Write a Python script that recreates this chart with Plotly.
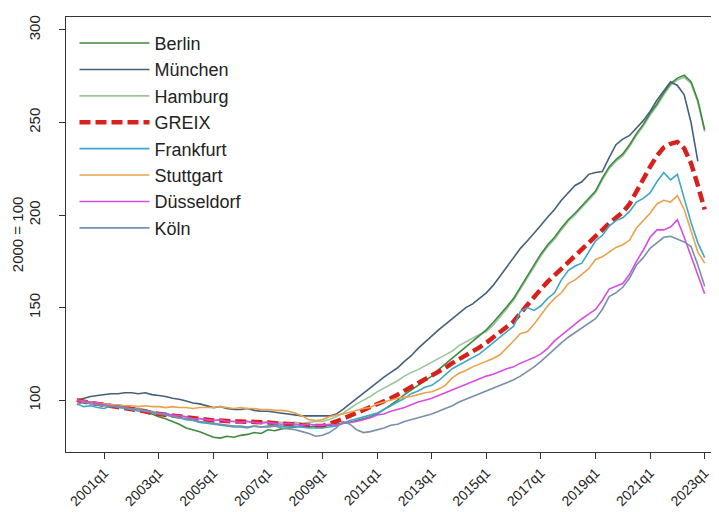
import plotly.graph_objects as go

quarters = [f"{y}q{q}" for y in range(2000, 2024) for q in range(1, 5)][:93]
tick_labels = ["2001q1", "2003q1", "2005q1", "2007q1", "2009q1", "2011q1",
               "2013q1", "2015q1", "2017q1", "2019q1", "2021q1", "2023q1"]
y_ticks = [100, 150, 200, 250, 300]

berlin = [
    100, 99.5, 99, 98.5, 98, 97.5, 97.5, 96.5, 96, 95, 94, 92.5,
    91, 90, 88.5, 87, 85, 84, 83, 81.5, 80, 79.5, 80.5, 80,
    81, 81.5, 82.5, 82, 84, 83.5, 84.5, 85, 85.5, 86, 85.5, 86,
    86, 86.5, 87, 87.5, 88, 89, 90, 91, 92.5, 95, 97.5, 100,
    103, 105.5, 108, 110.5, 113, 116.5, 119.5, 123, 126, 129, 132, 135,
    138, 142, 146, 150.5, 155, 161, 167, 173, 179, 184, 188, 193,
    197.5, 201, 205, 209, 213, 220, 226, 230, 233, 238, 244, 249,
    255, 260, 266, 271, 274, 275.5, 272, 262, 246]

muenchen = [
    100, 101, 102, 102.5, 103, 103.5, 103.5, 104, 104, 103.5, 104, 103,
    102.5, 102, 101, 100.5, 99.5, 98.5, 98, 97, 96, 96.5, 95.5, 95,
    95, 95.5, 94.5, 94, 94, 93.5, 93, 92.5, 92, 91.5, 91.5, 91.5,
    91.5, 91.5, 92.5, 95, 98, 101, 103.5, 107, 110, 112.5, 115, 117.5,
    121, 124, 128, 131.5, 135, 138, 141, 144, 147, 150, 152, 155,
    158, 162, 167, 172, 177, 182, 186, 190, 194.5, 199, 203, 208,
    212, 216, 218, 222, 223, 223.5, 231, 238, 241, 243, 247, 251,
    256, 262, 267, 272, 270, 265, 250, 229, None]

hamburg = [
    100, 99.5, 99, 98.5, 98, 97.5, 97, 96.5, 96, 95.5, 94.5, 94,
    93, 92.5, 92, 91.5, 91, 90.5, 90, 89.5, 89, 89.5, 89, 88.5,
    89, 88.5, 88, 88.5, 88, 88.5, 88, 87.5, 88, 87.5, 88, 88.5,
    88.5, 89.5, 91, 93, 95.5, 98, 100, 102, 104.5, 106.5, 108.5, 110.5,
    113, 115, 116.5, 118.5, 120.5, 122.5, 124.5, 126.5, 129.5, 131.5, 133.5, 135.5,
    137, 140.5, 145, 149.5, 154, 160, 166, 172, 178, 183, 187, 192,
    196.5, 200, 204, 208, 212, 219, 225, 229, 232, 237, 243, 248,
    254, 259, 265, 270, 273, 274.5, 271, 261, 245]

greix = [
    100, 99, 98.5, 98, 97.5, 97, 96, 95.5, 95, 94.5, 94, 93,
    92.5, 92, 91.5, 91, 90.5, 90, 89.5, 89.5, 89, 89, 88.5, 88.5,
    88.5, 88.5, 88, 88, 88, 87.5, 87.5, 87, 87, 86.5, 86, 86,
    86, 87, 88.5, 90, 91.5, 93, 94.5, 96, 97.5, 99, 101, 103,
    105, 107, 109, 111, 113, 115, 117.5, 120, 122, 124, 126.5, 128.5,
    131, 134, 137, 139.5, 142.5, 147, 151.5, 156, 160, 164, 167.5, 171,
    174.5, 178, 182, 185.5, 189, 192, 195.5, 198.5, 201.5, 206, 213, 220,
    226, 232, 236.5, 238.5, 239.5, 236, 228, 216, 203]

frankfurt = [
    98, 96.5, 97, 96, 95.5, 97, 96, 95.5, 95, 94, 94.5, 93.5,
    92.5, 93, 91.5, 90.5, 89.5, 89, 88, 87.5, 87, 86.5, 86, 85.5,
    85.5, 85, 86, 85.5, 86, 86.5, 86, 85.5, 86, 85.5, 85, 85,
    85, 85.5, 86, 87.5, 89, 90, 91, 92, 93, 95, 97, 99,
    101, 103.5, 105, 107, 108, 110.5, 114, 117, 119, 121, 123, 125,
    128, 131, 134, 137.5, 140, 148, 150, 148.5, 151, 155, 158, 165,
    170, 172.5, 174, 180, 186, 189, 194, 197, 198.5, 202, 207, 209,
    212, 218, 223, 219, 222, 209, 196, 185, 177]

stuttgart = [
    100, 99.5, 99, 98.5, 98, 97.5, 97.5, 97, 97, 96.5, 97, 96.5,
    96.5, 96, 96.5, 96, 96, 95.5, 96, 96, 96, 96.5, 96, 95.5,
    96, 95.5, 95.5, 95, 95, 94.5, 94.5, 94, 93, 91.5, 89.5, 89,
    89.5, 91, 92, 92.5, 93.5, 94.5, 95.5, 96, 98, 99, 100, 101,
    101.5, 102, 103, 104, 104.5, 106, 108, 112, 114.5, 116, 118, 119.5,
    121, 122.5, 124.5, 128, 132, 136, 137, 141, 146, 151, 155, 158,
    163, 165, 168, 171, 176, 177.5, 180, 182.5, 184, 186.5, 193, 197,
    201, 206, 208, 207, 210.5, 203, 191, 180, 174]

duesseldorf = [
    100, 99.5, 99, 98.5, 97.5, 97, 96.5, 96, 95.5, 95, 94, 93.5,
    93, 92.5, 92, 91.5, 91, 90, 90, 89.5, 89, 89.5, 88.5, 88.5,
    88, 88.5, 88, 87.5, 88, 87.5, 87, 87.5, 87, 86.5, 87, 86.5,
    86.5, 87, 86.5, 87.5, 88, 88.5, 89.5, 90.5, 92, 92.5, 94, 95,
    96, 97.5, 99, 100, 101, 102.5, 104, 105.5, 107, 108.5, 110, 111.5,
    113, 114, 115.5, 117, 118, 120, 121.5, 123, 125, 128, 132, 135,
    138, 141, 144, 146.5, 149, 154, 160, 161.5, 163, 168, 175, 181,
    188, 192, 192, 193.5, 197.5, 188, 178, 167, 157.5]

koeln = [
    97.5, 99, 98, 97.5, 97, 96.5, 97, 96, 95, 95.5, 94, 93.5,
    92.5, 92, 91, 90.5, 90, 89.5, 88.5, 88, 87.5, 87, 86.5, 86,
    86, 85.5, 86, 85.5, 85.5, 86, 85, 84.5, 84, 83, 82, 80.5,
    81, 82.5, 85, 88.5, 87, 84, 82.5, 83, 84, 85, 86.5, 87,
    88.5, 89.5, 90.5, 91.5, 92.5, 94, 95.5, 97, 99, 100.5, 102, 103.5,
    105, 106.5, 108, 109.5, 111, 113, 115.5, 118, 121, 124.5, 127.5, 131,
    134, 136.5, 139, 141.5, 144, 149, 156, 158, 161, 166, 173, 177,
    182, 185, 188, 188.5, 187, 185.5, 183, 173, 161.5]

# (name, values, color, width, dash, legend rank) in drawing order
series = [
    ("Hamburg", hamburg, "#9cc49c", 1.6, "solid", 3),
    ("Berlin", berlin, "#3f8a3f", 1.6, "solid", 1),
    ("München", muenchen, "#46607a", 1.6, "solid", 2),
    ("GREIX", greix, "#d8201c", 4.5, "11px,5px", 4),
    ("Frankfurt", frankfurt, "#3aa8c6", 1.6, "solid", 5),
    ("Stuttgart", stuttgart, "#eaa24c", 1.6, "solid", 6),
    ("Düsseldorf", duesseldorf, "#d64ee0", 1.6, "solid", 7),
    ("Köln", koeln, "#7890aa", 1.6, "solid", 8),
]

fig = go.Figure()
for name, vals, color, w, dash, rank in series:
    fig.add_trace(go.Scatter(
        x=quarters, y=vals, name=name, mode="lines",
        line=dict(color=color, width=w, dash=dash),
        legendrank=rank,
    ))

# The page body adds an 8px offset, so the figure is 8px smaller on each axis.
fig.update_layout(
    width=711, height=504,
    margin=dict(l=58, r=0, t=9, b=60, autoexpand=False),
    plot_bgcolor="white", paper_bgcolor="white",
    font=dict(family="Liberation Sans, Arial, sans-serif", color="#222", size=15),
    showlegend=True,
    legend=dict(
        x=0.013, y=0.982, xanchor="left", yanchor="top",
        font=dict(size=18, color="#222"),
        itemwidth=70, bgcolor="rgba(0,0,0,0)", borderwidth=0,
        tracegroupgap=0,
    ),
    annotations=[dict(
        text="2000 = 100", xref="paper", yref="paper",
        x=-0.074, y=0.5, xanchor="center", yanchor="middle",
        textangle=-90, showarrow=False, font=dict(size=15, color="#222"),
    )],
)
fig.update_xaxes(
    type="category", categoryorder="array", categoryarray=quarters,
    range=[-1.6, 94.1], tickvals=tick_labels, ticktext=tick_labels,
    tickangle=-45, ticks="outside", ticklen=6, tickcolor="#333",
    showline=True, linecolor="#333", linewidth=1.3, mirror=True,
    showgrid=False, zeroline=False, tickfont=dict(size=14, color="#222"),
    automargin=False,
)
fig.update_yaxes(
    range=[72, 307], tickvals=y_ticks, tickangle=-90,
    ticks="outside", ticklen=6, tickcolor="#333",
    showline=True, linecolor="#333", linewidth=1.3,
    showgrid=False, zeroline=False, tickfont=dict(size=15, color="#222"),
    ticklabelstandoff=13, automargin=False,
)

fig.write_html("out.html")
